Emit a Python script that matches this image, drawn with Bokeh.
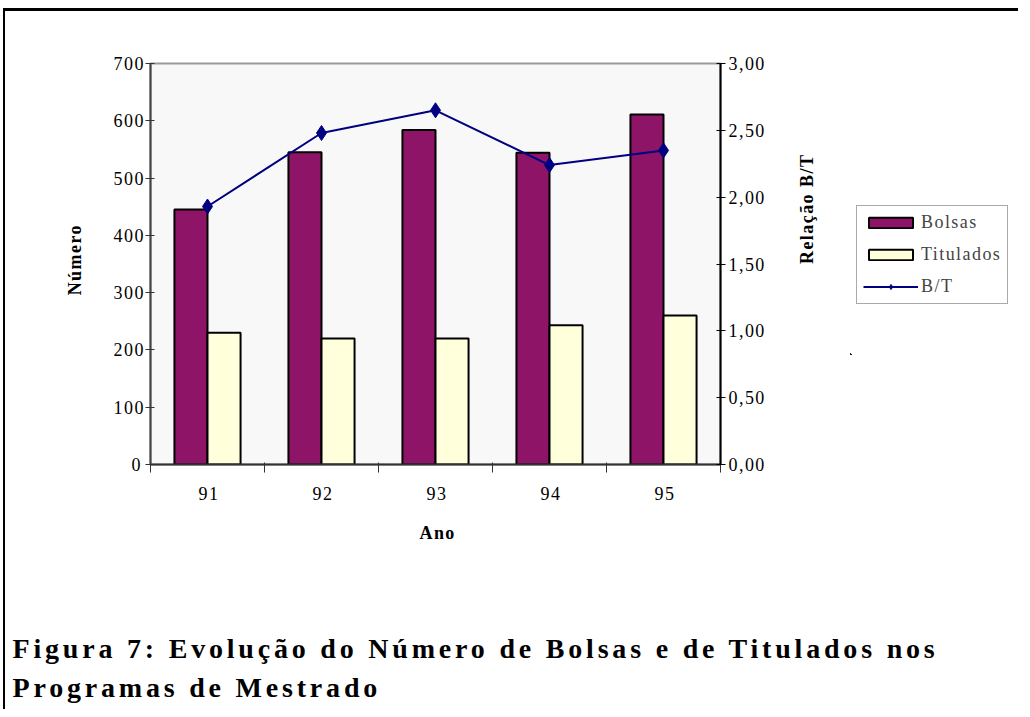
import numpy as np
from bokeh.plotting import figure
from bokeh.layouts import column, row
from bokeh.models import (Range1d, LinearAxis, FixedTicker, CustomJSTickFormatter,
                          Legend, LegendItem, Label, ColumnDataSource)
from bokeh.embed import file_html
from bokeh.resources import INLINE

anos = ["91", "92", "93", "94", "95"]
bolsas = [445, 545, 584, 544, 611]
titulados = [230, 220, 220, 243, 260]
relacao_bt = [1.93, 2.48, 2.65, 2.24, 2.35]
left_ticks = [0, 100, 200, 300, 400, 500, 600, 700]
right_ticks = [0, 0.5, 1.0, 1.5, 2.0, 2.5, 3.0]
series_names = ["Bolsas", "Titulados", "B/T"]
caption1 = "Figura 7: Evolução do Número de Bolsas e de Titulados nos"
caption2 = "Programas de Mestrado"

FONT = "Liberation Serif"
FS = "18px"
C_BOLSAS = "#8E1467"
C_TIT = "#FFFFDC"
C_BT = "#000080"

xc = np.arange(len(anos)) + 0.5
src = ColumnDataSource(dict(x=xc, xb=xc - 0.145, xt=xc + 0.145,
                            bolsas=bolsas, titulados=titulados, bt=relacao_bt))


def add_series(fig, y_name):
    rb = fig.vbar(x="xb", top="bolsas", width=0.29, source=src, fill_color=C_BOLSAS,
                  line_color="black", line_width=2)
    rt = fig.vbar(x="xt", top="titulados", width=0.29, source=src, fill_color=C_TIT,
                  line_color="black", line_width=2)
    rl = fig.line(x="x", y="bt", source=src, y_range_name=y_name, line_color=C_BT, line_width=2)
    rm = fig.scatter(x="x", y="bt", source=src, y_range_name=y_name, marker="diamond", size=15,
                     fill_color=C_BT, line_color=C_BT)
    return rb, rt, rl, rm


# ---------------- main chart ----------------
p = figure(frame_width=570, frame_height=401, output_backend="svg", toolbar_location=None,
           x_range=Range1d(0, len(anos)), y_range=Range1d(0, 700),
           min_border_left=145, min_border_right=130, min_border_top=52,
           min_border_bottom=110)
p.background_fill_color = "#F8F8F8"
p.border_fill_color = "white"
p.outline_line_color = "#999999"
p.outline_line_width = 2
p.grid.visible = False
p.extra_y_ranges = {"bt": Range1d(0, 3)}
add_series(p, "bt")

xa = p.xaxis[0]
xa.ticker = FixedTicker(ticks=list(xc), minor_ticks=list(range(len(anos) + 1)))
xa.formatter = CustomJSTickFormatter(args=dict(labels=anos), code="return labels[Math.floor(tick)];")
xa.major_tick_out = 0
xa.major_tick_in = 0
xa.minor_tick_out = 8
xa.minor_tick_in = 2
xa.axis_line_color = "#333333"
xa.axis_line_width = 2
xa.major_label_standoff = 14
xa.axis_label = "Ano"
xa.axis_label_standoff = 20

ya = p.yaxis[0]
ya.ticker = FixedTicker(ticks=left_ticks)
ya.major_tick_in = 4
ya.major_tick_out = 5
ya.axis_line_color = "#444444"
ya.axis_line_width = 2
ya.major_tick_line_color = "#333333"
ya.major_label_standoff = 5
ya.axis_label = "Número"
ya.axis_label_standoff = 26

ra = LinearAxis(y_range_name="bt", ticker=FixedTicker(ticks=right_ticks),
                formatter=CustomJSTickFormatter(code="return tick.toFixed(2).replace('.', ',');"))
ra.major_tick_in = 4
ra.major_tick_out = 5
ra.axis_line_color = "black"
ra.axis_line_width = 2
ra.major_label_standoff = 3
ra.axis_label = "Relação B/T"
ra.axis_label_standoff = 44
try:
    ra.axis_label_orientation = np.pi / 2
except Exception:
    pass
p.add_layout(ra, "right")

for ax in (xa, ya, ra):
    ax.minor_tick_line_color = "#333333" if ax is xa else None
    ax.major_label_text_font = FONT
    ax.major_label_text_font_size = FS
    ax.major_label_text_color = "black"
    ax.axis_label_text_font = FONT
    ax.axis_label_text_font_style = "bold"
    ax.axis_label_text_font_size = FS
    ax.axis_label_text_color = "black"

# ---------------- legend panel (same series, ranges kept off the data) ----------------
pl = figure(width=168, height=453, output_backend="svg", toolbar_location=None,
            x_range=Range1d(10, 11), y_range=Range1d(1000, 1001), x_axis_type=None, y_axis_type=None,
            min_border_left=0, min_border_right=0, min_border_top=0, min_border_bottom=0)
pl.extra_y_ranges = {"bt": Range1d(10, 11)}
pl.outline_line_color = None
pl.background_fill_color = "white"
pl.border_fill_color = "white"
lb, lt, ll, lm = add_series(pl, "bt")
legend = Legend(items=[LegendItem(label=series_names[0], renderers=[lb]),
                       LegendItem(label=series_names[1], renderers=[lt]),
                       LegendItem(label=series_names[2], renderers=[ll, lm])],
                location=(6, 50), glyph_width=55, glyph_height=13, label_height=20,
                label_width=78, spacing=11, padding=6, margin=0, label_standoff=3,
                label_text_font=FONT, label_text_font_size=FS,
                border_line_color="#555555", border_line_width=1,
                background_fill_color="white")
pl.add_layout(legend)

# ---------------- caption ----------------
pc = figure(frame_width=1012, frame_height=135, output_backend="svg", toolbar_location=None,
            x_range=Range1d(0, 1), y_range=Range1d(0, 1), x_axis_type=None, y_axis_type=None,
            min_border=0)
pc.outline_line_color = None
pc.background_fill_color = "white"
pc.styles = {"letter-spacing": "3.8px"}
for txt, yy in ((caption1, 61), (caption2, 22)):
    pc.add_layout(Label(x=7, y=yy, x_units="screen", y_units="screen", text=txt,
                        text_font=FONT, text_font_style="bold", text_font_size="28px",
                        text_color="black", text_baseline="alphabetic"))

layout = column(row(p, pl), pc)
layout.margin = (8, 0, 0, 3)
layout.styles = {"border-top": "3px solid black", "border-left": "2px solid black",
                 "letter-spacing": "1.44px"}

open("out.html", "w").write(file_html(layout, INLINE))
